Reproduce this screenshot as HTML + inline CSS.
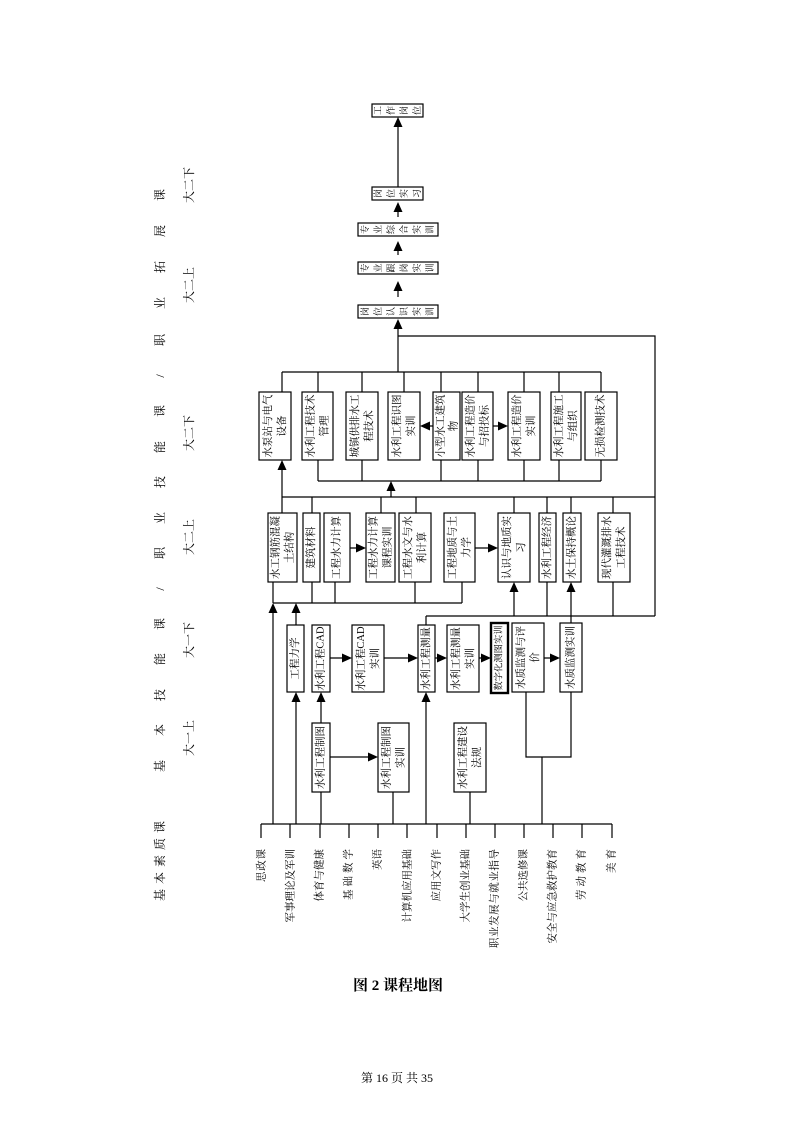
<!DOCTYPE html>
<html><head><meta charset="utf-8"><style>
html,body{margin:0;padding:0;background:#fff}
svg{display:block}
text{font-family:"Liberation Serif","Noto Serif CJK SC","Noto Sans CJK SC",serif;fill:#000}
</style></head><body>
<svg width="793" height="1122" viewBox="0 0 793 1122" xmlns="http://www.w3.org/2000/svg">
<g stroke="#000" stroke-width="1.2" fill="none">
<rect x="372" y="104" width="51" height="13"/>
<rect x="372" y="187" width="51" height="13"/>
<rect x="358" y="223" width="80" height="13"/>
<rect x="358" y="262" width="80" height="12"/>
<rect x="358" y="305" width="80" height="13"/>
<path d="M398 126V187M398 211V217M398 250V255M398 290V297M398 328V372M398 336H655V616"/>
<rect x="259" y="392" width="32" height="68"/>
<rect x="302" y="392" width="31" height="68"/>
<rect x="346" y="392" width="32" height="68"/>
<rect x="388" y="392" width="32" height="68"/>
<rect x="433" y="392" width="27" height="68"/>
<rect x="462" y="392" width="31" height="68"/>
<rect x="508" y="392" width="32" height="68"/>
<rect x="551" y="392" width="30" height="68"/>
<rect x="585" y="392" width="32" height="68"/>
<path d="M282 372H601M282 372V392M318 372V392M362 372V392M404 372V392M441 372V392M478 372V392M524 372V392M559 372V392M601 372V392"/>
<path d="M318 481H601M318 460V481M362 460V481M441 460V481M478 460V481M524 460V481M559 460V481M601 460V481"/>
<path d="M429 426H433M493 426H500M391 490V497M282 470V497"/>
<rect x="268" y="513" width="29" height="69"/>
<rect x="303" y="513" width="17" height="69"/>
<rect x="324" y="513" width="26" height="69"/>
<rect x="366" y="513" width="29" height="69"/>
<rect x="399" y="513" width="32" height="69"/>
<rect x="444" y="513" width="31" height="69"/>
<rect x="498" y="513" width="32" height="69"/>
<rect x="539" y="513" width="17" height="69"/>
<rect x="563" y="513" width="18" height="69"/>
<rect x="598" y="513" width="32" height="69"/>
<path d="M282 497H655M282 497V513M312 497V513M381 497V513M416 497V513M514 497V513M547 497V513M571 497V513M613 497V513"/>
<path d="M350 548H358M475 548H490"/>
<path d="M273 603H462M312 582V603M335 582V603M415 582V603M462 582V603"/>
<path d="M273 582V603M273 612V824M296 612V625"/>
<path d="M426 616H655M426 616V625M547 582V616M613 582V616M514 592V616M571 592V623"/>
<rect x="287" y="625" width="17" height="67"/>
<rect x="312" y="625" width="18" height="67"/>
<rect x="352" y="625" width="32" height="67"/>
<rect x="418" y="625" width="17" height="67"/>
<rect x="447" y="625" width="32" height="67"/>
<rect x="512" y="623" width="32" height="69"/>
<rect x="560" y="623" width="22" height="69"/>
<path d="M330 658H344M384 658H410M435 658H439M479 658H483M544 658H552"/>
<path d="M296 701V824M321 701V723M426 701V824"/>
<rect x="312" y="723" width="18" height="69"/>
<rect x="378" y="723" width="31" height="69"/>
<rect x="454" y="723" width="32" height="69"/>
<path d="M330 757H370M321 792V824M393 792V824M470 792V824"/>
<path d="M526 692V757H571V692M542 757V824"/>
<path d="M261 824H612M261 824V838M290 824V838M320 824V838M349 824V838M378 824V838M407 824V838M437 824V838M466 824V838M495 824V838M524 824V838M553 824V838M582 824V838M612 824V838"/>
</g>
<rect x="491" y="623" width="17" height="70" fill="none" stroke="#000" stroke-width="2.4"/>
<g fill="#000">
<path d="M398 117l-4.5 10h9z"/>
<path d="M398 202l-4.5 10h9z"/>
<path d="M398 241l-4.5 10h9z"/>
<path d="M398 281l-4.5 10h9z"/>
<path d="M398 319l-4.5 10h9z"/>
<path d="M420 426l10 -4.5v9z"/>
<path d="M508 426l-10 -4.5v9z"/>
<path d="M391 481l-4.5 10h9z"/>
<path d="M282 460l-4.5 10h9z"/>
<path d="M366 548l-10 -4.5v9z"/>
<path d="M498 548l-10 -4.5v9z"/>
<path d="M273 603l-4.5 10h9z"/>
<path d="M296 603l-4.5 10h9z"/>
<path d="M514 582l-4.5 10h9z"/>
<path d="M571 582l-4.5 10h9z"/>
<path d="M352 658l-10 -4.5v9z"/>
<path d="M418 658l-10 -4.5v9z"/>
<path d="M447 658l-10 -4.5v9z"/>
<path d="M491 658l-10 -4.5v9z"/>
<path d="M560 658l-10 -4.5v9z"/>
<path d="M296 692l-4.5 10h9z"/>
<path d="M321 692l-4.5 10h9z"/>
<path d="M426 692l-4.5 10h9z"/>
<path d="M378 757l-10 -4.5v9z"/>
</g>

<g font-size="9" text-anchor="middle" dominant-baseline="central">
<text transform="translate(378,110.5) rotate(-90)">工</text>
<text transform="translate(391,110.5) rotate(-90)">作</text>
<text transform="translate(404,110.5) rotate(-90)">岗</text>
<text transform="translate(417,110.5) rotate(-90)">位</text>
<text transform="translate(378,193.5) rotate(-90)">岗</text>
<text transform="translate(391,193.5) rotate(-90)">位</text>
<text transform="translate(404,193.5) rotate(-90)">实</text>
<text transform="translate(417,193.5) rotate(-90)">习</text>
<text transform="translate(365,229.5) rotate(-90)">专</text>
<text transform="translate(378,229.5) rotate(-90)">业</text>
<text transform="translate(391,229.5) rotate(-90)">综</text>
<text transform="translate(404,229.5) rotate(-90)">合</text>
<text transform="translate(417,229.5) rotate(-90)">实</text>
<text transform="translate(430,229.5) rotate(-90)">训</text>
<text transform="translate(365,268) rotate(-90)">专</text>
<text transform="translate(378,268) rotate(-90)">业</text>
<text transform="translate(391,268) rotate(-90)">跟</text>
<text transform="translate(404,268) rotate(-90)">岗</text>
<text transform="translate(417,268) rotate(-90)">实</text>
<text transform="translate(430,268) rotate(-90)">训</text>
<text transform="translate(365,311.5) rotate(-90)">岗</text>
<text transform="translate(378,311.5) rotate(-90)">位</text>
<text transform="translate(391,311.5) rotate(-90)">认</text>
<text transform="translate(404,311.5) rotate(-90)">识</text>
<text transform="translate(417,311.5) rotate(-90)">实</text>
<text transform="translate(430,311.5) rotate(-90)">训</text>
</g>

<g font-size="10.5" text-anchor="middle" dominant-baseline="central">
<text transform="translate(275,426) rotate(-90)"><tspan x="0" y="-7">水泵站与电气</tspan><tspan x="0" y="7">设备</tspan></text>
<text transform="translate(317.5,426) rotate(-90)"><tspan x="0" y="-7">水利工程技术</tspan><tspan x="0" y="7">管理</tspan></text>
<text transform="translate(362,426) rotate(-90)"><tspan x="0" y="-7">城镇供排水工</tspan><tspan x="0" y="7">程技术</tspan></text>
<text transform="translate(404,426) rotate(-90)"><tspan x="0" y="-7">水利工程识图</tspan><tspan x="0" y="7">实训</tspan></text>
<text transform="translate(446.5,426) rotate(-90)"><tspan x="0" y="-6">小型水工建筑</tspan><tspan x="0" y="7">物</tspan></text>
<text transform="translate(477.5,426) rotate(-90)"><tspan x="0" y="-7">水利工程造价</tspan><tspan x="0" y="7">与招投标</tspan></text>
<text transform="translate(524,426) rotate(-90)"><tspan x="0" y="-7">水利工程造价</tspan><tspan x="0" y="7">实训</tspan></text>
<text transform="translate(566,426) rotate(-90)"><tspan x="0" y="-7">水利工程施工</tspan><tspan x="0" y="7">与组织</tspan></text>
<text transform="translate(601,426) rotate(-90)">无损检测技术</text>

<text transform="translate(282.5,547.5) rotate(-90)"><tspan x="0" y="-7">水工钢筋混凝</tspan><tspan x="0" y="7">土结构</tspan></text>
<text transform="translate(311.5,547.5) rotate(-90)">建筑材料</text>
<text transform="translate(337,547.5) rotate(-90)">工程水力计算</text>
<text transform="translate(380.5,547.5) rotate(-90)"><tspan x="0" y="-7">工程水力计算</tspan><tspan x="0" y="7">课程实训</tspan></text>
<text transform="translate(415,547.5) rotate(-90)"><tspan x="0" y="-7">工程水文与水</tspan><tspan x="0" y="7">利计算</tspan></text>
<text transform="translate(459.5,547.5) rotate(-90)"><tspan x="0" y="-7">工程地质与土</tspan><tspan x="0" y="7">力学</tspan></text>
<text transform="translate(514,547.5) rotate(-90)"><tspan x="0" y="-7">认识与地质实</tspan><tspan x="0" y="7">习</tspan></text>
<text transform="translate(547.5,547.5) rotate(-90)">水利工程经济</text>
<text transform="translate(572,547.5) rotate(-90)">水土保持概论</text>
<text transform="translate(614,547.5) rotate(-90)"><tspan x="0" y="-7">现代灌溉排水</tspan><tspan x="0" y="7">工程技术</tspan></text>

<text transform="translate(295.5,658.5) rotate(-90)">工程力学</text>
<text transform="translate(321,658.5) rotate(-90)">水利工程CAD</text>
<text transform="translate(368,658.5) rotate(-90)"><tspan x="0" y="-7">水利工程CAD</tspan><tspan x="0" y="7">实训</tspan></text>
<text transform="translate(426.5,658.5) rotate(-90)">水利工程测量</text>
<text transform="translate(463,658.5) rotate(-90)"><tspan x="0" y="-7">水利工程测量</tspan><tspan x="0" y="7">实训</tspan></text>
<text transform="translate(499.5,658) rotate(-90)" font-size="9.3">数字化测图实训</text>
<text transform="translate(528,657.5) rotate(-90)"><tspan x="0" y="-7">水质监测与评</tspan><tspan x="0" y="7">价</tspan></text>
<text transform="translate(571,657.5) rotate(-90)">水质监测实训</text>

<text transform="translate(321,757.5) rotate(-90)">水利工程制图</text>
<text transform="translate(393.5,757.5) rotate(-90)"><tspan x="0" y="-7">水利工程制图</tspan><tspan x="0" y="7">实训</tspan></text>
<text transform="translate(470,757.5) rotate(-90)"><tspan x="0" y="-7">水利工程建设</tspan><tspan x="0" y="7">法规</tspan></text>
</g>

<g font-size="10.5" text-anchor="end" dominant-baseline="central">
<text transform="translate(262,849) rotate(-90)" textLength="33" lengthAdjust="spacing">思政课</text>
<text transform="translate(291,849) rotate(-90)">军事理论及军训</text>
<text transform="translate(320,849) rotate(-90)">体育与健康</text>
<text transform="translate(349,849) rotate(-90)" textLength="51" lengthAdjust="spacing">基础数学</text>
<text transform="translate(378,849) rotate(-90)">英语</text>
<text transform="translate(408,849) rotate(-90)">计算机应用基础</text>
<text transform="translate(437,849) rotate(-90)">应用文写作</text>
<text transform="translate(466,849) rotate(-90)">大学生创业基础</text>
<text transform="translate(495,849) rotate(-90)" textLength="99" lengthAdjust="spacing">职业发展与就业指导</text>
<text transform="translate(524,849) rotate(-90)">公共选修课</text>
<text transform="translate(553,849) rotate(-90)">安全与应急救护教育</text>
<text transform="translate(582,849) rotate(-90)" textLength="51" lengthAdjust="spacing">劳动教育</text>
<text transform="translate(612,849) rotate(-90)" textLength="24" lengthAdjust="spacing">美育</text>
</g>

<g font-size="12" text-anchor="middle" dominant-baseline="central">
<text transform="translate(160,195) rotate(-90)">课</text>
<text transform="translate(160,231) rotate(-90)">展</text>
<text transform="translate(160,267) rotate(-90)">拓</text>
<text transform="translate(160,303) rotate(-90)">业</text>
<text transform="translate(160,340) rotate(-90)">职</text>
<text transform="translate(160,376) rotate(-90)">/</text>
<text transform="translate(160,411) rotate(-90)">课</text>
<text transform="translate(160,447) rotate(-90)">能</text>
<text transform="translate(160,482) rotate(-90)">技</text>
<text transform="translate(160,518) rotate(-90)">业</text>
<text transform="translate(160,553) rotate(-90)">职</text>
<text transform="translate(160,589) rotate(-90)">/</text>
<text transform="translate(160,624) rotate(-90)">课</text>
<text transform="translate(160,659) rotate(-90)">能</text>
<text transform="translate(160,695) rotate(-90)">技</text>
<text transform="translate(160,730) rotate(-90)">本</text>
<text transform="translate(160,766) rotate(-90)">基</text>
<text transform="translate(160,827) rotate(-90)">课</text>
<text transform="translate(160,844) rotate(-90)">质</text>
<text transform="translate(160,861) rotate(-90)">素</text>
<text transform="translate(160,878) rotate(-90)">本</text>
<text transform="translate(160,895) rotate(-90)">基</text>
<text transform="translate(189,185) rotate(-90)">大二下</text>
<text transform="translate(189,285) rotate(-90)">大二上</text>
<text transform="translate(189,433) rotate(-90)">大二下</text>
<text transform="translate(189,537) rotate(-90)">大二上</text>
<text transform="translate(189,640) rotate(-90)">大一下</text>
<text transform="translate(189,738) rotate(-90)">大一上</text>
</g>

<text x="398" y="990" font-size="15" font-weight="bold" text-anchor="middle" font-family="'Liberation Serif','Noto Sans CJK SC',serif">图 2 课程地图</text>
<text x="397" y="1082" font-size="12" text-anchor="middle">第 16 页 共 35</text>
</svg>
</body></html>
